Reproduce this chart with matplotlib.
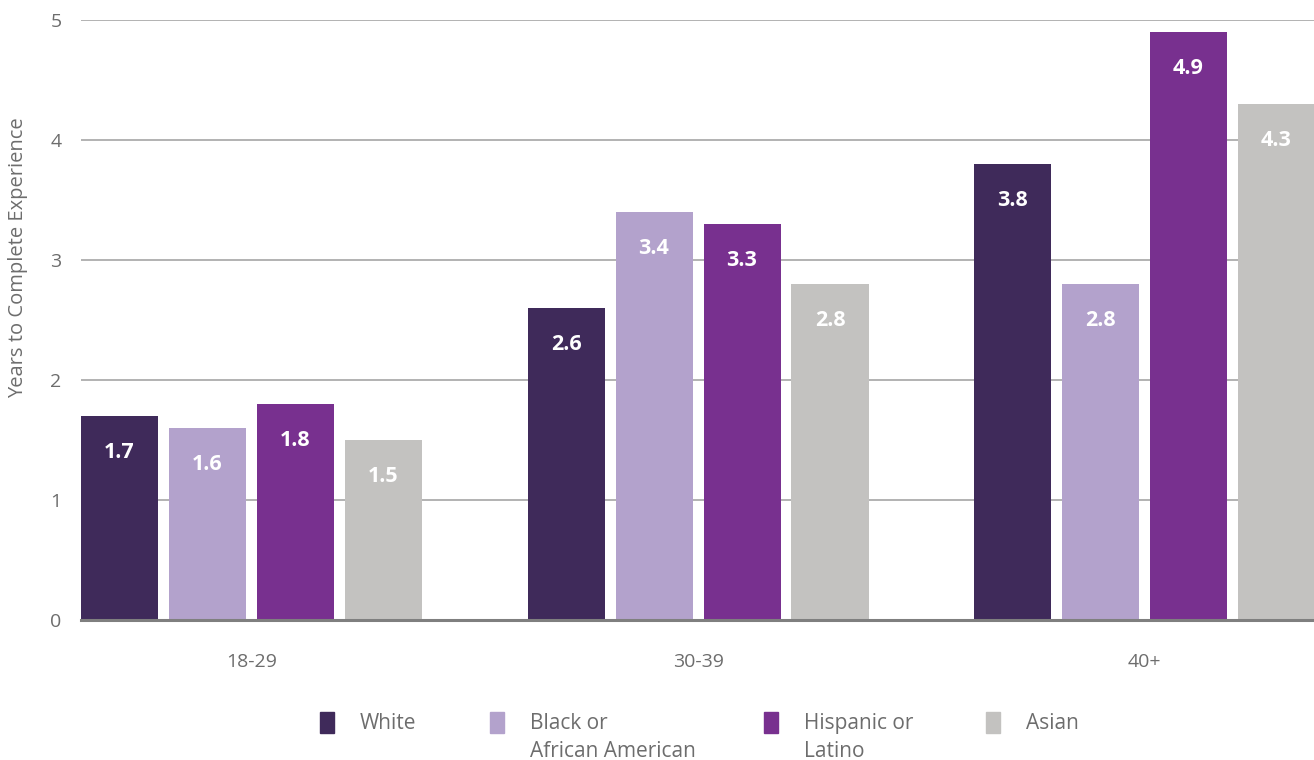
import numpy as np
import matplotlib.pyplot as plt
from matplotlib.patches import Rectangle

# Data
age_groups = ["18-29", "30-39", "40+"]
series_names = ["White", "Black or\nAfrican American", "Hispanic or\nLatino", "Asian"]
white = [1.7, 2.6, 3.8]
black = [1.6, 3.4, 2.8]
hispanic = [1.8, 3.3, 4.9]
asian = [1.5, 2.8, 4.3]
y_ticks = [0, 1, 2, 3, 4, 5]

colors = ["#3f2a5a", "#b3a2cc", "#78308f", "#c3c2c0"]
text_gray = "#6d6d6d"

plt.rcParams['font.family'] = ['Open Sans', 'DejaVu Sans']

fig = plt.figure(figsize=(13.14, 7.6), dpi=100)
ax = fig.add_axes([81 / 1314, 1 - 620 / 760, 1 - 81 / 1314, 600 / 760])

x = np.arange(len(age_groups))
group_px = 446.5
step = 88 / group_px
width = 77 / group_px
all_series = [white, black, hispanic, asian]

for i, (vals, c) in enumerate(zip(all_series, colors)):
    xpos = x + (i - 1.5) * step
    bars = ax.bar(xpos, vals, width=width, color=c, zorder=3)
    for b, v in zip(bars, vals):
        ax.annotate(f"{v:.1f}", (b.get_x() + b.get_width() / 2, v),
                    xytext=(0, -26), textcoords="offset points",
                    ha="center", va="center", color="white",
                    fontsize=15.5, fontweight="bold", zorder=4)

ax.set_xlim((81 - 251.5) / group_px, (1314 - 251.5) / group_px)
ax.set_ylim(0, 5)
ax.set_yticks(y_ticks)
ax.set_xticks(x)
ax.set_xticklabels(age_groups)
ax.yaxis.grid(True, color="#a6a6a6", linewidth=1.2, zorder=0)
ax.set_axisbelow(True)
for s in ["top", "right", "left"]:
    ax.spines[s].set_visible(False)
ax.spines["bottom"].set_color("#7f7f7f")
ax.spines["bottom"].set_linewidth(2.2)
ax.spines["bottom"].set_zorder(5)
ax.tick_params(axis="both", length=0, labelsize=14, labelcolor=text_gray)
ax.tick_params(axis="x", pad=24)
ax.tick_params(axis="y", pad=14)

fig.text(18 / 1314, 1 - 258 / 760, "Years to Complete Experience", rotation=90,
         ha="center", va="center", fontsize=14.5, color=text_gray)

# legend drawn by hand so the swatch sits on the first text line
sw_x = [320, 490, 764, 986]
for sx, name, c in zip(sw_x, series_names, colors):
    fig.patches.append(Rectangle((sx / 1314, 1 - 733 / 760), 14 / 1314, 21 / 760,
                                 transform=fig.transFigure, color=c))
    fig.text((sx + 40) / 1314, 1 - 713 / 760, name, ha="left", va="top",
             fontsize=15, color=text_gray, linespacing=1.45)

fig.savefig("out.png", dpi=100)
